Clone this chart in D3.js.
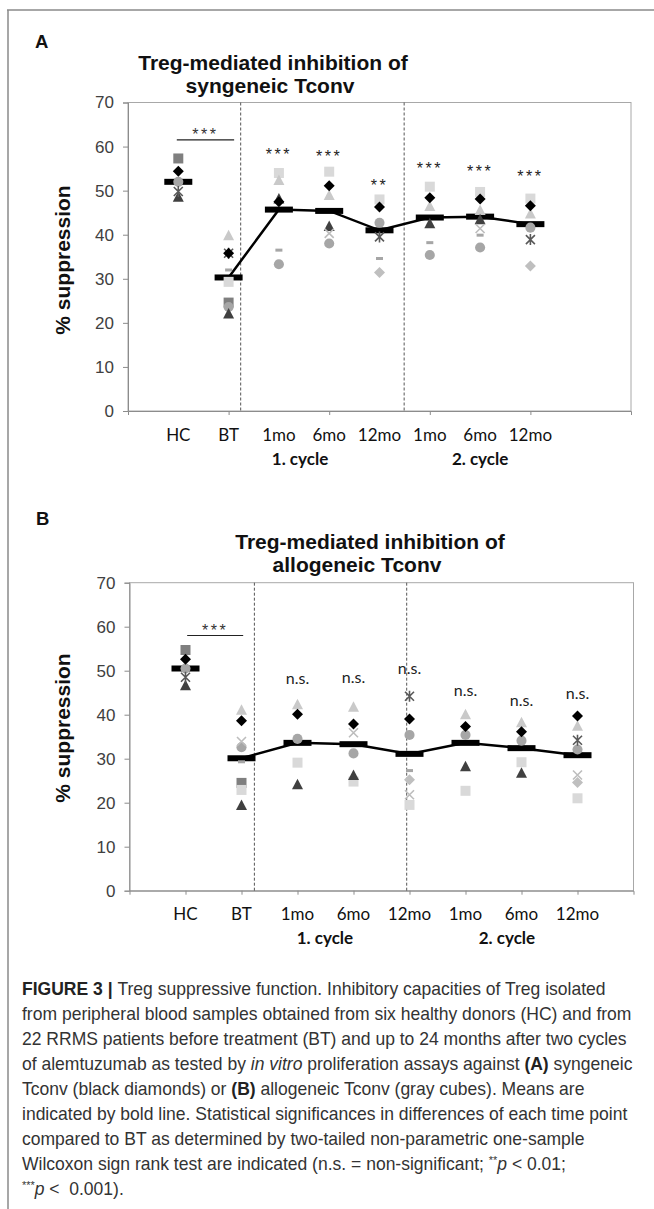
<!DOCTYPE html>
<html><head><meta charset="utf-8">
<script src="https://cdn.jsdelivr.net/npm/d3@7"></script>
<style>body{margin:0;background:#fff}</style>
</head><body>
<svg id="c" width="654" height="1209" xmlns="http://www.w3.org/2000/svg"></svg>
<script>
// ---------------- DATA ----------------
const categories = ["HC", "BT", "1mo", "6mo", "12mo", "1mo", "6mo", "12mo"];
const cycleLabels = ["1. cycle", "2. cycle"];
const yTicks = [0, 10, 20, 30, 40, 50, 60, 70];

// Panel A: syngeneic Tconv (values per category, null = no point)
const aSqDark   = [57.3, 24.6, null, null, null, null, null, null];
const aDiaBlack = [54.4, 35.8, 47.5, 51.1, 46.3, 48.4, 48.1, 46.6];
const aSqLight  = [null, 29.3, 54.0, 54.3, 48.0, 50.9, 49.7, 48.2];
const aTriLight = [null, 39.9, 52.4, 49.0, null, 46.5, 45.6, 44.8];
const aTriDark  = [48.6, 22.1, 48.2, 42.0, null, 42.6, 43.5, null];
const aCircle   = [52.0, 23.6, 33.3, 38.0, 42.7, 35.4, 37.1, 41.6];
const aStar     = [49.8, 35.8, null, null, 39.5, null, null, 38.9];
const aXLight   = [null, null, null, 40.3, null, null, 41.4, null];
const aDash     = [null, 32.0, 36.5, null, 34.6, 38.2, 39.9, null];
const aDiaLight = [null, null, null, null, 31.4, null, null, 32.9];
const aMeans    = [52.0, 30.3, 45.7, 45.4, 41.0, 43.9, 44.1, 42.4];
const aSigText  = [null, null, "***", "***", "**", "***", "***", "***"];
const aSigLevel = [null, null, 59.0, 58.6, 52.0, 55.8, 55.2, 54.0];
const aBracket  = {text: "***", from: 0.97, to: 2.11, level: 61.5, textLevel: 63.6};

// Panel B: allogeneic Tconv
const bSqDark   = [54.7, 24.5, null, null, null, null, null, null];
const bDiaBlack = [52.6, 38.6, 40.1, 37.9, 39.0, 37.3, 36.1, 39.7];
const bSqLight  = [null, 22.9, 29.1, 24.8, 19.5, 22.7, 29.2, 21.0];
const bTriLight = [null, 41.1, 42.4, 41.8, null, 40.1, 38.3, 37.5];
const bTriDark  = [46.7, 19.5, 24.2, 26.3, null, 28.3, 26.8, null];
const bCircle   = [50.5, 32.6, 34.5, 31.2, 35.4, 35.4, 34.1, 32.1];
const bStar     = [48.5, null, null, null, 44.2, null, null, 34.2];
const bXLight   = [null, 33.9, null, 35.9, 21.8, null, null, 26.3];
const bDash     = [null, 29.3, null, null, 27.3, null, null, null];
const bDiaLight = [null, null, null, null, 25.2, null, null, 24.6];
const bMeans    = [50.5, 30.1, 33.6, 33.3, 31.1, 33.6, 32.4, 30.8];
const bSigText  = [null, null, "n.s.", "n.s.", "n.s.", "n.s.", "n.s.", "n.s."];
const bSigLevel = [null, null, 48.1, 48.3, 50.2, 45.3, 43.0, 44.5];
const bBracket  = {text: "***", from: 1.03, to: 2.03, level: 58.0, textLevel: 60.0};

// ---------------- STYLES ----------------
const markerStyle = {
  sqDark:   {shape: "square",   fill: "#7f7f7f"},
  diaBlack: {shape: "diamond",  fill: "#000000"},
  sqLight:  {shape: "square",   fill: "#d9d9d9"},
  triLight: {shape: "triangle", fill: "#c9c9c9"},
  triDark:  {shape: "triangle", fill: "#404040"},
  circle:   {shape: "circle",   fill: "#a6a6a6"},
  star:     {shape: "star",     stroke: "#595959"},
  xLight:   {shape: "x",        stroke: "#bdbdbd"},
  dash:     {shape: "dash",     fill: "#a6a6a6"},
  diaLight: {shape: "diamond",  fill: "#bfbfbf"}
};

function shapePath(shape) {
  const s = 10;
  switch (shape) {
    case "square": return `M${-s/2},${-s/2}h${s}v${s}h${-s}Z`;
    case "diamond": return `M0,${-5.5}L5.5,0L0,5.5L-5.5,0Z`;
    case "triangle": return `M0,-5.5L5.5,5L-5.5,5Z`;
    case "circle": return d3.symbol(d3.symbolCircle, 80)();
    case "x": return "M-4.5,-4.5L4.5,4.5M-4.5,4.5L4.5,-4.5";
    case "star": return "M-4.5,-4.5L4.5,4.5M-4.5,4.5L4.5,-4.5M0,-5.5L0,5.5";
    case "dash": return "M-3.5,-1.5h7v3h-7Z";
  }
}

const svg = d3.select("#c");
svg.append("rect").attr("width", 654).attr("height", 1209).attr("fill", "#fff");

// Outer frame (top and left)
svg.append("line").attr("x1", 7).attr("x2", 654).attr("y1", 10).attr("y2", 10)
  .attr("stroke", "#8a8a8a").attr("stroke-width", 1.5);
svg.append("line").attr("x1", 8).attr("x2", 8).attr("y1", 10).attr("y2", 1209)
  .attr("stroke", "#8a8a8a").attr("stroke-width", 1.5);

function drawPanel(cfg) {
  const g = svg.append("g");
  const x = d3.scaleLinear().domain(cfg.xDomain).range(cfg.xRange);
  const y = d3.scaleLinear().domain([0, 70]).range(cfg.yRange);
  const [x0, x1] = cfg.xRange;
  const [yb, yt] = cfg.yRange;

  // Panel letter
  g.append("text").attr("x", cfg.letterX).attr("y", cfg.letterY).text(cfg.letter)
    .attr("font-family", "Liberation Sans, Arial, sans-serif").attr("font-weight", "bold")
    .attr("font-size", 18.5).attr("fill", "#111");

  // Title
  cfg.title.forEach((t, i) => {
    g.append("text").attr("x", cfg.titleX[i]).attr("y", cfg.titleY + i * 22.5)
      .attr("text-anchor", "middle").text(t)
      .attr("font-family", "Liberation Sans, Arial, sans-serif").attr("font-weight", "bold")
      .attr("font-size", 21).attr("fill", "#111");
  });

  // Plot border
  g.append("rect").attr("x", x0).attr("y", yt).attr("width", x1 - x0).attr("height", yb - yt)
    .attr("fill", "none").attr("stroke", "#a8a8a8").attr("stroke-width", 1);

  // Y axis
  const ya = g.append("g").attr("transform", `translate(${x0},0)`)
    .call(d3.axisLeft(y).tickValues(yTicks).tickSize(5).tickPadding(9));
  ya.select(".domain").attr("stroke", "#8c8c8c");
  ya.selectAll(".tick line").attr("stroke", "#8c8c8c");
  ya.selectAll(".tick text").attr("font-family", "Liberation Sans, Arial, sans-serif")
    .attr("font-size", 17).attr("fill", "#404040");

  // X axis
  const xa = g.append("g").attr("transform", `translate(0,${yb})`)
    .call(d3.axisBottom(x).tickValues(cfg.xTicks).tickSize(4).tickFormat(""));
  xa.select(".domain").attr("stroke", "#8c8c8c");
  xa.selectAll(".tick line").attr("stroke", "#8c8c8c");

  // Dashed separators
  cfg.dashes.forEach(d => {
    g.append("line").attr("x1", x(d)).attr("x2", x(d)).attr("y1", yt).attr("y2", yb)
      .attr("stroke", "#555").attr("stroke-width", 1).attr("stroke-dasharray", "3,2");
  });

  // Y label
  g.append("text").attr("transform", `translate(70,${cfg.yLabelY}) rotate(-90)`)
    .attr("text-anchor", "middle").text("% suppression")
    .attr("font-family", "Liberation Sans, Arial, sans-serif").attr("font-weight", "bold")
    .attr("font-size", 21).attr("fill", "#111");

  // Category labels
  categories.forEach((c, i) => {
    g.append("text").attr("x", x(i + 1)).attr("y", yb + 29.5).attr("text-anchor", "middle")
      .text(c).attr("font-family", "Lato, Carlito, sans-serif").attr("font-size", 17).attr("fill", "#111");
  });
  cycleLabels.forEach((c, i) => {
    g.append("text").attr("x", x(cfg.cycleX[i])).attr("y", yb + 53.5).attr("text-anchor", "middle")
      .text(c).attr("font-family", "Lato, Carlito, sans-serif").attr("font-weight", "bold")
      .attr("font-size", 17).attr("fill", "#111");
  });

  // Mean line (BT onward) and mean bars
  const meanPts = cfg.means.map((m, i) => [x(i + 1), y(m)]);
  g.append("path").attr("d", d3.line()(meanPts.slice(1)))
    .attr("fill", "none").attr("stroke", "#000").attr("stroke-width", 2.5);
  g.selectAll(".mbar").data(cfg.means).join("rect")
    .attr("x", (d, i) => x(i + 1) - 14).attr("y", d => y(d) - 3)
    .attr("width", 28).attr("height", 6).attr("fill", "#000");

  // Markers
  cfg.series.forEach(s => {
    const st = markerStyle[s.key];
    s.values.forEach((v, i) => {
      if (v == null) return;
      const p = g.append("path").attr("d", shapePath(st.shape))
        .attr("transform", `translate(${x(i + 1)},${y(v)})`);
      if (st.stroke) p.attr("fill", "none").attr("stroke", st.stroke).attr("stroke-width", 1.6);
      else p.attr("fill", st.fill);
    });
  });

  // Bracket HC vs BT
  const br = cfg.bracket;
  g.append("line").attr("x1", x(br.from)).attr("x2", x(br.to)).attr("y1", y(br.level)).attr("y2", y(br.level))
    .attr("stroke", "#222").attr("stroke-width", 1.2);
  g.append("text").attr("x", x((br.from + br.to) / 2)).attr("y", y(br.textLevel) + 9)
    .attr("text-anchor", "middle").text(br.text).attr("letter-spacing", 2.5)
    .attr("font-family", "Liberation Sans, Arial, sans-serif").attr("font-size", 16).attr("fill", "#333");

  // Significance labels
  cfg.sigText.forEach((t, i) => {
    if (!t) return;
    const isStar = t.startsWith("*");
    g.append("text").attr("x", x(i + 1)).attr("y", y(cfg.sigLevel[i]) + (isStar ? 9 : 4.5))
      .attr("text-anchor", "middle").text(t)
      .attr("letter-spacing", isStar ? 2.5 : 0)
      .attr("font-family", isStar ? "Liberation Sans, Arial, sans-serif" : "Lato, Carlito, sans-serif")
      .attr("font-size", isStar ? 16 : 16).attr("fill", "#222");
  });
}

drawPanel({
  letter: "A", letterX: 35, letterY: 48,
  title: ["Treg-mediated inhibition of", "syngeneic Tconv"], titleX: [273, 270], titleY: 70,
  xDomain: [0, 10], xRange: [128, 631], yRange: [411, 102.5],
  xTicks: [2, 4, 6, 8], dashes: [2.24, 5.49], cycleX: [3.42, 7.0], yLabelY: 260,
  means: aMeans, sigText: aSigText, sigLevel: aSigLevel, bracket: aBracket,
  series: [
    {key: "sqDark", values: aSqDark}, {key: "sqLight", values: aSqLight},
    {key: "triLight", values: aTriLight}, {key: "dash", values: aDash},
    {key: "diaLight", values: aDiaLight}, {key: "circle", values: aCircle},
    {key: "triDark", values: aTriDark}, {key: "xLight", values: aXLight},
    {key: "star", values: aStar}, {key: "diaBlack", values: aDiaBlack}
  ]
});

drawPanel({
  letter: "B", letterX: 36, letterY: 525,
  title: ["Treg-mediated inhibition of", "allogeneic Tconv"], titleX: [370, 357], titleY: 549,
  xDomain: [0, 9], xRange: [129.5, 633.5], yRange: [890.7, 582.7],
  xTicks: [1, 2, 3, 4, 5, 6, 7, 8], dashes: [2.23, 4.95], cycleX: [3.49, 6.74], yLabelY: 728,
  means: bMeans, sigText: bSigText, sigLevel: bSigLevel, bracket: bBracket,
  series: [
    {key: "sqDark", values: bSqDark}, {key: "sqLight", values: bSqLight},
    {key: "triLight", values: bTriLight}, {key: "dash", values: bDash},
    {key: "diaLight", values: bDiaLight}, {key: "circle", values: bCircle},
    {key: "triDark", values: bTriDark}, {key: "xLight", values: bXLight},
    {key: "star", values: bStar}, {key: "diaBlack", values: bDiaBlack}
  ]
});

// ---------------- CAPTION ----------------
const captionLines = [
  [["FIGURE 3 | ", "b"], ["Treg suppressive function. Inhibitory capacities of Treg isolated", ""]],
  [["from peripheral blood samples obtained from six healthy donors (HC) and from", ""]],
  [["22 RRMS patients before treatment (BT) and up to 24 months after two cycles", ""]],
  [["of alemtuzumab as tested by ", ""], ["in vitro", "i"], [" proliferation assays against ", ""], ["(A)", "b"], [" syngeneic", ""]],
  [["Tconv (black diamonds) or ", ""], ["(B)", "b"], [" allogeneic Tconv (gray cubes). Means are", ""]],
  [["indicated by bold line. Statistical significances in differences of each time point", ""]],
  [["compared to BT as determined by two-tailed non-parametric one-sample", ""]],
  [["Wilcoxon sign rank test are indicated (n.s. = non-significant; ", ""], ["**", "sup"], ["p", "i"], [" < 0.01;", ""]],
  [["***", "sup"], ["p", "i"], [" <  0.001).", ""]]
];
const cap = svg.append("g").attr("font-family", "Liberation Sans, Arial, sans-serif").attr("fill", "#333");
const capTexts = captionLines.map((segs, li) => {
  const t = cap.append("text").attr("x", 22).attr("y", 995 + li * 25).attr("font-size", 16)
    .attr("xml:space", "preserve").style("white-space", "pre");
  let prevSup = false;
  segs.forEach(([txt, st]) => {
    const ts = t.append("tspan").text(txt);
    if (st === "b") ts.attr("font-weight", "bold").attr("fill", "#222");
    if (st === "i") ts.attr("font-style", "italic");
    if (st === "sup") { ts.attr("font-size", "0.62em").attr("dy", -6); prevSup = true; }
    else if (prevSup) { ts.attr("dy", 6); prevSup = false; }
  });
  return t;
});
const w2 = capTexts[1].node().getComputedTextLength();
const fs = 16 * 610 / w2;
capTexts.forEach(t => t.attr("font-size", fs));
</script>
</body></html>
